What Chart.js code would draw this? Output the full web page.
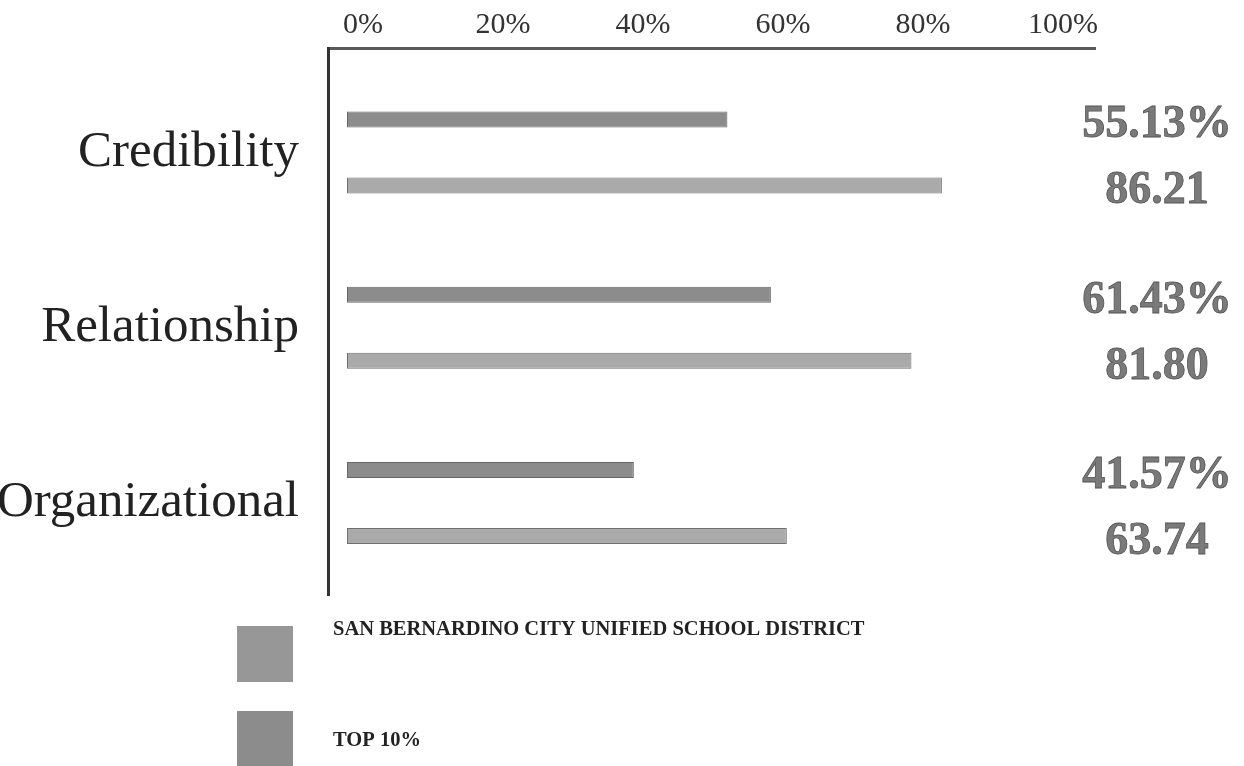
<!DOCTYPE html>
<html>
<head>
<meta charset="utf-8">
<title>Credibility / Relationship / Organizational</title>
<script src="https://cdn.jsdelivr.net/npm/chart.js@4.4.1/dist/chart.umd.min.js"></script>
<style>
  html, body { margin: 0; padding: 0; background: #fff; }
  #wrap { width: 1244px; height: 766px; }
</style>
</head>
<body>
<div id="wrap"><canvas id="miGrafico"></canvas></div>
<script>
// data
const categories = ['Credibility', 'Relationship', 'Organizational'];
const seriesNames = ['SAN BERNARDINO CITY UNIFIED SCHOOL DISTRICT', 'TOP 10%'];
const districtValues = [55.13, 61.43, 41.57];
const top10Values = [86.21, 81.80, 63.74];
const tickValues = [0, 20, 40, 60, 80, 100];

const SERIF = "'Liberation Serif', 'Times New Roman', serif";
const barColors = ['#8c8c8c', '#aaaaaa'];
const legendColors = ['#979797', '#8c8c8c'];

function toPoints(values) {
  return values.map((v, i) => ({ x: v, y: i }));
}

// value labels to the right of the plot
const valueLabels = {
  id: 'valueLabels',
  afterDatasetsDraw(chart) {
    const ctx = chart.ctx;
    ctx.save();
    ctx.font = 'bold 46px ' + SERIF;
    ctx.textAlign = 'center';
    ctx.textBaseline = 'middle';
    ctx.fillStyle = '#7a7a7a';
    ctx.strokeStyle = '#555';
    ctx.lineWidth = 0.8;
    chart.data.datasets.forEach((ds, d) => {
      const meta = chart.getDatasetMeta(d);
      meta.data.forEach((bar, i) => {
        const txt = ds.data[i].x.toFixed(2) + (d === 0 ? '%' : '');
        ctx.fillText(txt, 1157, bar.y + 6);
        ctx.strokeText(txt, 1157, bar.y + 6);
      });
    });
    ctx.restore();
  }
};

// stacked legend under the plot
const stackedLegend = {
  id: 'stackedLegend',
  afterDraw(chart) {
    const ctx = chart.ctx;
    const boxTops = [626, 711];
    const textYs = [630, 741];
    ctx.save();
    ctx.font = 'bold 20.5px ' + SERIF;
    ctx.textBaseline = 'middle';
    chart.data.datasets.forEach((ds, d) => {
      ctx.fillStyle = legendColors[d];
      ctx.fillRect(237, boxTops[d], 56, 56);
      ctx.fillStyle = '#222';
      ctx.fillText(ds.label, 333, textYs[d]);
    });
    ctx.restore();
  }
};

const GRAFICO = document.getElementById('miGrafico');

let grafico = new Chart(GRAFICO, {
  type: 'bar',
  data: {
    datasets: [
      {
        label: seriesNames[0],
        data: toPoints(districtValues),
        backgroundColor: barColors[0],
        borderColor: '#666',
        borderWidth: 1,
        borderSkipped: false,
        categoryPercentage: 0.752,
        barPercentage: 0.242
      },
      {
        label: seriesNames[1],
        data: toPoints(top10Values),
        backgroundColor: barColors[1],
        borderColor: '#707070',
        borderWidth: 1,
        borderSkipped: false,
        categoryPercentage: 0.752,
        barPercentage: 0.242
      }
    ]
  },
  options: {
    indexAxis: 'y',
    responsive: true,
    maintainAspectRatio: false,
    animation: false,
    layout: { padding: { top: 0, left: 0, right: 149, bottom: 171 } },
    plugins: {
      legend: { display: false },
      tooltip: { enabled: false }
    },
    scales: {
      x: {
        type: 'linear',
        display: false,
        min: -2.75,
        max: 108.4
      },
      xTicks: {
        type: 'linear',
        axis: 'x',
        position: 'top',
        min: -5,
        max: 104.57,
        afterBuildTicks(scale) {
          scale.ticks = tickValues.map(v => ({ value: v }));
        },
        afterFit(scale) {
          scale.height = 48;
        },
        ticks: {
          padding: 5,
          color: '#333',
          font: { family: SERIF, size: 30 },
          callback: v => v + '%'
        },
        grid: { display: false, drawTicks: false },
        border: { display: true, color: '#5a5a5a', width: 3 }
      },
      y: {
        type: 'linear',
        position: 'left',
        reverse: true,
        offset: false,
        min: -0.596,
        max: 2.525,
        afterBuildTicks(scale) {
          scale.ticks = categories.map((c, i) => ({ value: i }));
        },
        afterFit(scale) {
          scale.width = 328;
          scale.paddingTop = 0;
          scale.paddingBottom = 0;
        },
        ticks: {
          padding: 29,
          color: '#222',
          font: { family: SERIF, size: 51 },
          callback: v => categories[v]
        },
        grid: { display: false, drawTicks: false, offset: false },
        border: { display: true, color: '#333', width: 3 }
      }
    }
  },
  plugins: [valueLabels, stackedLegend]
});
</script>
</body>
</html>
